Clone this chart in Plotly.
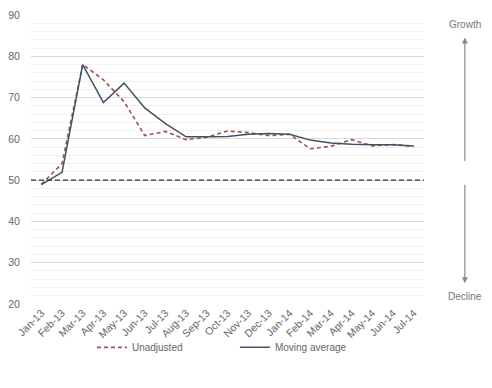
import plotly.graph_objects as go

months = ["Jan-13", "Feb-13", "Mar-13", "Apr-13", "May-13", "Jun-13", "Jul-13", "Aug-13",
          "Sep-13", "Oct-13", "Nov-13", "Dec-13", "Jan-14", "Feb-14", "Mar-14", "Apr-14",
          "May-14", "Jun-14", "Jul-14"]
unadjusted = [49.0, 54.0, 78.0, 74.3, 69.0, 60.8, 61.8, 59.8, 60.4, 61.9, 61.5, 60.8,
              61.1, 57.6, 58.2, 59.8, 58.3, 58.6, 58.2]
moving_avg = [48.9, 51.9, 78.0, 68.8, 73.5, 67.5, 63.7, 60.5, 60.5, 60.6, 61.1, 61.3,
              61.1, 59.7, 59.0, 58.7, 58.6, 58.6, 58.3]
y_ticks = [20, 30, 40, 50, 60, 70, 80, 90]
threshold = 50

font_family = "Liberation Sans, Arial, sans-serif"

fig = go.Figure()
fig.add_trace(go.Scatter(x=months, y=unadjusted, name="Unadjusted", mode="lines",
                         line=dict(color="#a0524a", width=1.6, dash="4px,3px")))
fig.add_trace(go.Scatter(x=months, y=moving_avg, name="Moving average", mode="lines",
                         line=dict(color="#3e5266", width=1.5)))

fig.add_shape(type="line", xref="paper", yref="y", x0=0, x1=1, y0=threshold, y1=threshold,
              line=dict(color="#333333", width=1.2, dash="5px,3px"), layer="above")

# Growth / Decline arrows
fig.add_annotation(xref="paper", yref="paper", x=1.104, y=0.922, ax=0, ay=125,
                   text="", showarrow=True, arrowhead=2, arrowsize=1, arrowwidth=1.2,
                   arrowcolor="#8a8a8a")
fig.add_annotation(xref="paper", yref="paper", x=1.104, y=0.072, ax=0, ay=-100,
                   text="", showarrow=True, arrowhead=2, arrowsize=1, arrowwidth=1.2,
                   arrowcolor="#8a8a8a")
fig.add_annotation(xref="paper", yref="paper", x=1.104, y=0.966, text="Growth",
                   xanchor="center", yanchor="middle",
                   showarrow=False, font=dict(size=10, color="#777777", family=font_family))
fig.add_annotation(xref="paper", yref="paper", x=1.104, y=0.026, text="Decline",
                   xanchor="center", yanchor="middle",
                   showarrow=False, font=dict(size=10, color="#777777", family=font_family))

fig.update_layout(
    width=484, height=380,
    margin=dict(l=23, r=68, t=7, b=84, autoexpand=False),
    paper_bgcolor="white", plot_bgcolor="white",
    font=dict(family=font_family, size=10, color="#666666"),
    showlegend=True,
    legend=dict(orientation="h", x=0.155, xanchor="left", y=-0.15, yanchor="middle",
                bgcolor="rgba(0,0,0,0)",
                font=dict(size=10, color="#666666"), entrywidth=98, itemwidth=30),
)
fig.update_xaxes(type="category", range=[-0.5, len(months) - 0.5], tickangle=-45,
                 showgrid=False, showline=False, zeroline=False, automargin=False,
                 tickfont=dict(size=10.5, color="#666666"))
fig.update_yaxes(range=[20, 90], tickvals=y_ticks, showgrid=True, gridcolor="#d9d9d9",
                 gridwidth=1, zeroline=False, showline=False, automargin=False,
                 ticks="outside", ticklen=8, tickcolor="rgba(0,0,0,0)",
                 tickfont=dict(size=10.5, color="#666666"),
                 minor=dict(dtick=2, showgrid=True, gridcolor="#f0f0f0", gridwidth=1))

fig.write_html("out.html")
